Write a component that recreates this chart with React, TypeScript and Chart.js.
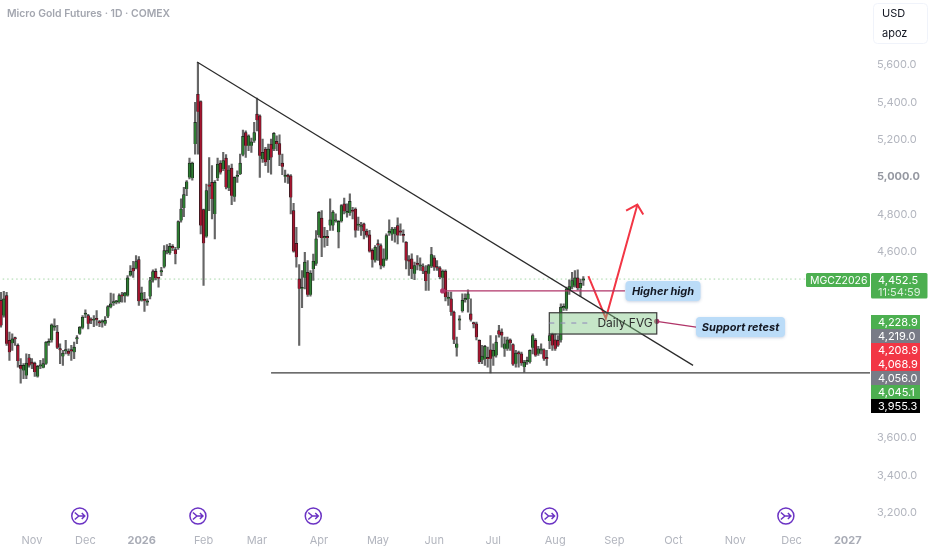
import React, { useEffect, useRef } from "react";
import { Chart, registerables } from "chart.js";

Chart.register(...registerables);

const opens = [
  4338,4257,4364,4124,4109,4132,4097,3990,3963,3936,
  4031,4008,4002,3931,3985,3977,3999,4110,4124,4193,
  4168,4074,4038,4066,4066,4068,4061,4130,4159,4191,
  4262,4257,4232,4230,4235,4222,4220,4213,4252,4302,
  4323,4327,4329,4361,4361,4364,4471,4511,4511,4557,
  4338,4338,4327,4359,4445,4494,4457,4489,4519,4596,
  4591,4628,4610,4619,4766,4833,4935,4997,4994,5176,
  5443,5404,4825,4680,4958,4971,4801,4994,5074,5042,
  5101,4940,5047,4894,5001,5015,5119,5238,5167,5167,
  5194,5336,5327,5095,5149,5090,5176,5149,5190,5179,
  5074,5001,5003,5006,4819,4644,4454,4400,4459,4489,
  4368,4507,4534,4689,4779,4673,4675,4739,4739,4762,
  4704,4762,4855,4807,4807,4816,4828,4739,4730,4748,
  4709,4689,4606,4552,4636,4632,4522,4557,4700,4691,
  4695,4739,4706,4686,4650,4549,4561,4481,4531,4520,
  4520,4495,4481,4520,4566,4513,4513,4459,4495,4347,
  4347,4276,4085,4231,4281,4341,4346,4266,4213,4213,
  4124,4017,4026,4026,4074,4038,4043,4177,4168,4079,
  4079,4127,4102,3999,4052,4052,3981,4008,4008,4084,
  4124,4052,4070,4074,4026,4120,4156,4127,4124,4124,
  4298,4293,4391,4409,4418,4459,4405,4445,
];
const highs = [
  4382,4387,4382,4168,4159,4141,4106,4026,3999,4052,
  4049,4026,4008,3990,4017,4026,4117,4132,4213,4240,
  4204,4106,4070,4124,4079,4097,4115,4150,4198,4257,
  4288,4263,4245,4257,4284,4231,4234,4252,4311,4377,
  4373,4338,4373,4382,4382,4471,4525,4548,4578,4573,
  4409,4382,4346,4462,4502,4507,4462,4516,4632,4637,
  4644,4637,4623,4765,4882,4944,4980,5101,5080,5399,
  5613,5408,4828,4962,5104,5060,4980,5101,5087,5131,
  5119,5060,5069,5001,5033,5122,5251,5247,5226,5208,
  5292,5422,5333,5202,5158,5176,5202,5238,5220,5226,
  5122,5037,5015,5012,4858,4730,4530,4498,4596,4552,
  4498,4587,4712,4814,4820,4730,4713,4882,4820,4802,
  4766,4852,4887,4855,4909,4837,4834,4784,4757,4752,
  4721,4713,4614,4632,4663,4641,4614,4695,4770,4730,
  4730,4780,4748,4716,4654,4579,4588,4543,4579,4566,
  4534,4525,4531,4623,4579,4552,4520,4502,4502,4383,
  4383,4281,4142,4257,4373,4373,4395,4346,4222,4222,
  4127,4097,4097,4088,4150,4106,4150,4204,4186,4141,
  4141,4132,4106,4070,4067,4061,4017,4034,4074,4159,
  4133,4092,4106,4079,4070,4159,4163,4159,4150,4320,
  4320,4409,4448,4489,4498,4502,4453,4466,
];
const lows = [
  4195,4248,4097,4017,4070,4097,3981,3895,3919,3919,
  3981,3972,3931,3927,3972,3976,3995,4097,4115,4177,
  4079,3999,3990,4052,4043,4017,4026,4106,4156,4186,
  4245,4186,4213,4198,4204,4198,4195,4204,4245,4298,
  4311,4320,4323,4329,4329,4361,4468,4462,4507,4311,
  4334,4279,4311,4346,4436,4448,4409,4471,4512,4587,
  4584,4605,4534,4612,4757,4787,4899,4989,4983,5122,
  5122,4694,4418,4676,4819,4775,4668,4980,5015,5033,
  4935,4926,4851,4869,4971,5012,5113,5104,5140,5131,
  5185,5247,4997,5078,5060,5024,5015,5140,5140,5060,
  5012,4971,4965,4801,4596,4516,4097,4299,4400,4359,
  4361,4445,4525,4677,4573,4623,4632,4713,4713,4757,
  4620,4757,4802,4784,4793,4775,4677,4713,4686,4668,
  4677,4597,4516,4543,4552,4507,4516,4552,4686,4659,
  4650,4641,4686,4650,4507,4472,4454,4449,4502,4499,
  4481,4392,4392,4513,4499,4499,4454,4392,4335,4311,
  4258,4106,4039,4181,4275,4329,4275,4227,4191,4127,
  3999,3999,3990,3981,3949,3990,4034,4141,4088,4038,
  4070,4070,3990,3981,3981,3990,3954,3995,4002,4052,
  4038,4043,4052,4017,3990,4079,4070,4070,4092,4115,
  4284,4284,4370,4400,4409,4395,4359,4418,
];
const closes = [
  4204,4346,4106,4061,4132,4130,4013,3972,3990,4002,
  3990,3999,3954,3985,3988,3999,4115,4113,4207,4197,
  4084,4071,4056,4068,4052,4066,4088,4132,4195,4248,
  4264,4213,4230,4232,4234,4216,4222,4231,4305,4320,
  4325,4329,4364,4360,4379,4459,4494,4494,4546,4334,
  4379,4336,4329,4445,4493,4457,4455,4491,4605,4598,
  4628,4619,4587,4760,4828,4905,4974,5074,5074,5292,
  5349,4739,4644,4926,4948,4882,4971,5069,5024,5087,
  4944,5037,4899,4997,5003,5074,5217,5167,5220,5188,
  5238,5304,5113,5131,5078,5149,5104,5233,5176,5119,
  5055,5003,5001,4890,4602,4570,4400,4402,4543,4368,
  4484,4548,4668,4810,4673,4675,4673,4770,4811,4764,
  4762,4846,4816,4809,4869,4814,4713,4741,4732,4709,
  4686,4600,4556,4623,4634,4525,4561,4686,4702,4721,
  4721,4686,4702,4684,4552,4547,4507,4525,4529,4522,
  4495,4442,4525,4584,4516,4511,4463,4495,4356,4349,
  4276,4128,4106,4233,4338,4343,4373,4234,4211,4141,
  4008,4040,4092,4024,4026,4070,4115,4156,4150,4106,
  4127,4109,3995,4056,4050,4002,4008,4010,4070,4150,
  4043,4079,4072,4026,4024,4150,4097,4079,4097,4302,
  4300,4400,4412,4445,4459,4405,4430,4452.5,
];

const monthLabels = ["Nov","Dec","2026","Feb","Mar","Apr","May","Jun","Jul","Aug","Sep","Oct","Nov","Dec","2027"];
const monthBars = [11,30,50,72,91,113,134,154,175,197,218,239,261,281,301];
const priceTicks = [5600,5400,5200,5000,4800,4600,3600,3400,3200];
const eventBars = [28,70,111,195,279];

const lastPrice = 4452.5;
const trendLine = [{ x: 69.7, y: 5616 }, { x: 246, y: 3990 }];
const supportLine = [{ x: 96, y: 3950 }, { x: 309, y: 3950 }];
const higherHighLine = [{ x: 157, y: 4389 }, { x: 221.8, y: 4389 }];
const retestLine = [{ x: 233.1, y: 4226 }, { x: 247.1, y: 4195 }];
const projection = [{ x: 208.8, y: 4468 }, { x: 215, y: 4242 }, { x: 226.2, y: 4851 }];
const projectionHead = [{ x: 222.2, y: 4819 }, { x: 226.2, y: 4851 }, { x: 228.3, y: 4798 }];
const fvgZone = { x0: 194.9, x1: 233.1, top: 4272, bottom: 4158, mid: 4217 };

const tagLabels = ["4,228.9","4,219.0","4,208.9","4,068.9","4,056.0","4,045.1","3,955.3"];
const tagColors = ["#4caf50","#787b86","#f23645","#f23645","#787b86","#4caf50","#000000"];

const FONT = "Inter, 'Noto Sans', sans-serif";
const UP = "#2e7d32";
const DOWN = "#a5152f";

const fmt = (v: number) => v.toLocaleString("en-US", { minimumFractionDigits: 1, maximumFractionDigits: 1 });

const overlay = {
  id: "overlay",
  afterDatasetsDraw(chart: any) {
    const { ctx, scales } = chart;
    const X = scales.x, Y = scales.y;
    ctx.save();
    ctx.textBaseline = "middle";

    // FVG zone
    const bx0 = X.getPixelForValue(fvgZone.x0), bx1 = X.getPixelForValue(fvgZone.x1);
    const by0 = Y.getPixelForValue(fvgZone.top), by1 = Y.getPixelForValue(fvgZone.bottom);
    ctx.fillStyle = "rgba(129,199,132,0.45)";
    ctx.fillRect(bx0, by0, bx1 - bx0, by1 - by0);
    ctx.strokeStyle = "#3a3a3a";
    ctx.lineWidth = 1.2;
    ctx.strokeRect(bx0, by0, bx1 - bx0, by1 - by0);
    const my = Y.getPixelForValue(fvgZone.mid);
    ctx.setLineDash([5, 6]);
    ctx.strokeStyle = "#8d86b8";
    ctx.lineWidth = 1;
    ctx.beginPath();
    ctx.moveTo(bx0, my);
    ctx.lineTo(bx0 + 44, my);
    ctx.stroke();
    ctx.setLineDash([]);
    ctx.fillStyle = "#2f2f2f";
    ctx.font = `12px ${FONT}`;
    ctx.textAlign = "right";
    ctx.fillText("Daily FVG", bx1 - 4, my + 0.5);

    // pills
    const pill = (x: number, y: number, w: number, h: number, text: string) => {
      ctx.save();
      ctx.shadowColor = "rgba(80,110,160,0.3)";
      ctx.shadowBlur = 3;
      ctx.shadowOffsetY = 1;
      ctx.fillStyle = "#bbdcf8";
      ctx.beginPath();
      ctx.roundRect(x, y, w, h, 4);
      ctx.fill();
      ctx.restore();
      ctx.fillStyle = "#131722";
      ctx.font = `italic 700 11px ${FONT}`;
      ctx.textAlign = "center";
      ctx.fillText(text, x + w / 2, y + h / 2 + 0.5);
    };
    pill(625.5, 281, 75, 20, "Higher high");
    pill(696, 317, 89, 20, "Support retest");

    // last price tags
    ctx.font = `10.5px ${FONT}`;
    ctx.fillStyle = "#4caf50";
    ctx.beginPath();
    ctx.roundRect(806, 273, 64, 14, 1.5);
    ctx.fill();
    ctx.beginPath();
    ctx.roundRect(871, 273, 56.5, 25.5, 1.5);
    ctx.fill();
    ctx.textAlign = "left";
    ctx.fillStyle = "#ffffff";
    ctx.fillText("MGCZ2026", 810, 280.5);
    ctx.font = `11px ${FONT}`;
    ctx.fillText(fmt(lastPrice), 878, 280.5);
    ctx.fillStyle = "rgba(255,255,255,0.8)";
    ctx.fillText("11:54:59", 878, 292.5);

    // stacked price tags
    tagLabels.forEach((t, i) => {
      const top = 315 + i * 14;
      ctx.fillStyle = tagColors[i];
      ctx.fillRect(871, top, 49, 14);
      ctx.fillStyle = "#ffffff";
      ctx.fillText(t, 878, top + 7.5);
    });

    // currency box
    ctx.strokeStyle = "#f0f3fa";
    ctx.lineWidth = 1;
    ctx.beginPath();
    ctx.roundRect(873.5, 3.5, 54, 40, 4);
    ctx.stroke();
    ctx.fillStyle = "#131722";
    ctx.fillText("USD", 882, 13.5);
    ctx.fillText("apoz", 882, 33.5);

    // header
    ctx.fillStyle = "#a3a6af";
    ctx.font = `600 10.4px ${FONT}`;
    ctx.fillText("Micro Gold Futures · 1D · COMEX", 7, 13.5);

    // event markers
    eventBars.forEach((b) => {
      const cx = X.getPixelForValue(b), cy = 516;
      ctx.strokeStyle = "#6b33c4";
      ctx.lineWidth = 1.5;
      ctx.beginPath();
      ctx.arc(cx, cy, 8, 0, Math.PI * 2);
      ctx.stroke();
      ctx.beginPath();
      ctx.moveTo(cx - 5, cy - 3.5);
      ctx.lineTo(cx - 1, cy);
      ctx.lineTo(cx - 5, cy + 3.5);
      ctx.moveTo(cx - 1, cy);
      ctx.lineTo(cx + 5, cy);
      ctx.moveTo(cx + 2, cy - 3);
      ctx.lineTo(cx + 5, cy);
      ctx.lineTo(cx + 2, cy + 3);
      ctx.stroke();
    });
    ctx.restore();
  },
};

const lineDs = (data: any[], color: string, width: number, extra: any = {}) => ({
  type: "line" as const,
  data,
  borderColor: color,
  backgroundColor: color,
  borderWidth: width,
  pointRadius: 0,
  fill: false,
  tension: 0,
  order: 0,
  ...extra,
});

export default function App() {
  const ref = useRef<HTMLCanvasElement | null>(null);
  useEffect(() => {
    if (!ref.current) return;
    const wicks = highs.map((h, i) => ({ x: i, y: [lows[i], h] }));
    const bodies = opens.map((o, i) => ({ x: i, y: [Math.min(o, closes[i]), Math.max(o, closes[i])] }));
    const bodyColors = opens.map((o, i) => (closes[i] >= o ? UP : DOWN));
    const chart = new Chart(ref.current, {
      type: "bar",
      data: {
        datasets: [
          {
            data: bodies as any,
            backgroundColor: bodyColors,
            borderColor: "#1a1a1a",
            borderWidth: 0.7,
            barThickness: 2.8,
            minBarLength: 1.6,
            grouped: false,
            order: 1,
          },
          {
            data: wicks as any,
            backgroundColor: "#666666",
            barThickness: 1.5,
            grouped: false,
            order: 2,
          },
          lineDs([{ x: -1, y: lastPrice }, { x: 286, y: lastPrice }], "rgba(76,175,80,0.5)", 1, { borderDash: [1.5, 3], order: 3 }),
          lineDs(trendLine, "#2b2b2b", 1.2),
          lineDs(supportLine, "#3c3c3c", 1.4),
          lineDs(higherHighLine, "#b03468", 1.2, { pointRadius: [2, 0], pointBackgroundColor: "#b03468" }),
          lineDs(retestLine, "#b03468", 1.2, { pointRadius: [2, 0], pointBackgroundColor: "#b03468" }),
          lineDs(projection, "#f23645", 2),
          lineDs(projectionHead, "#f23645", 2),
        ] as any,
      },
      options: {
        animation: false,
        responsive: false,
        layout: { padding: 0, autoPadding: false },
        plugins: { legend: { display: false }, tooltip: { enabled: false } },
        scales: {
          x: {
            type: "linear",
            bounds: "data",
            min: -0.355,
            max: 308.9,
            offset: false,
            grid: { display: false, offset: false, drawTicks: false },
            border: { display: false },
            afterBuildTicks: (axis: any) => {
              axis.ticks = monthBars.map((v) => ({ value: v }));
            },
            afterFit: (axis: any) => {
              axis.height = 20;
            },
            ticks: {
              autoSkip: false,
              maxRotation: 0,
              padding: 4,
              color: (c: any) => (/^\d/.test(monthLabels[c.index] ?? "") ? "#a9acb6" : "#b2b5be"),
              font: (c: any) => ({
                family: FONT,
                size: 11,
                weight: /^\d/.test(monthLabels[c.index] ?? "") ? "bold" : "normal",
              }),
              callback: (_v: any, i: number) => monthLabels[i],
            },
          },
          y: {
            type: "linear",
            position: "right",
            bounds: "data",
            min: 3107.9,
            max: 5875,
            grid: { display: false, drawTicks: false },
            border: { display: false },
            afterBuildTicks: (axis: any) => {
              axis.ticks = priceTicks.map((v) => ({ value: v }));
            },
            afterFit: (axis: any) => {
              axis.width = 62;
            },
            ticks: {
              padding: 7,
              color: (c: any) => (c.tick?.value === 5000 ? "#9598a1" : "#b2b5be"),
              font: (c: any) => ({
                family: FONT,
                size: 11,
                weight: c.tick?.value === 5000 ? "bold" : "normal",
              }),
              callback: (v: any) => fmt(Number(v)),
            },
          },
        },
      } as any,
      plugins: [overlay],
    });
    return () => chart.destroy();
  }, []);
  return (
    <div style={{ position: "absolute", left: 0, top: 0, width: 932, height: 550, background: "#ffffff" }}>
      <canvas ref={ref} width={932} height={550} style={{ display: "block", filter: "blur(0.35px)" }} />
    </div>
  );
}
